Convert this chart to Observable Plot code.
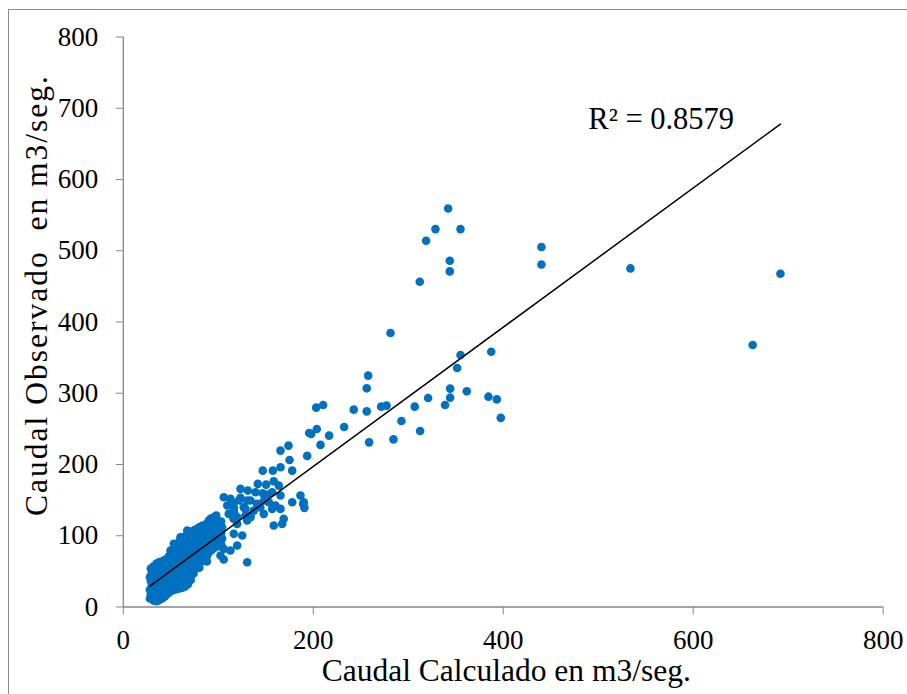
<!DOCTYPE html>
<html>
<head>
<meta charset="utf-8">
<script src="https://cdn.jsdelivr.net/npm/d3@7"></script>
<script src="https://cdn.jsdelivr.net/npm/@observablehq/plot@0.6"></script>
<style>
  body { margin: 0; background: #ffffff; }
  #wrap { position: relative; width: 907px; height: 694px; overflow: hidden; background: #fff; }
  #frame { position: absolute; left: 8px; top: 9px; width: 930px; height: 720px; border: 1px solid #8c8c8c; box-sizing: border-box; pointer-events: none; }
  #chart { position: absolute; left: 0; top: 0; }
</style>
</head>
<body>
<div id="wrap"><div id="frame"></div><div id="chart"></div></div>
<script>
// Outlying / sparse points (Caudal Calculado, Caudal Observado)
const sparseCalc = [342.0,328.6,355.0,318.8,343.7,343.7,312.1,440.2,440.2,533.9,691.8,662.6,281.3,355.0,387.3,351.5,257.8,256.3,344.1,361.6,320.9,344.1,306.8,338.8,384.4,393.2,397.4,242.6,256.3,271.5,277.1,292.8,312.5,284.4,258.8,232.5,216.7,207.6,195.7,197.8,203.7,203.1,210.4,193.6,173.9,165.5,175.0];
const sparseObs  = [559.3,530.4,530.4,514.0,486.0,471.0,456.5,505.2,480.8,475.2,467.7,367.7,384.6,353.7,358.3,335.5,324.7,306.9,306.5,302.7,293.4,293.8,281.2,283.6,295.2,291.4,265.4,277.0,274.6,281.2,282.6,261.1,247.1,235.3,231.1,252.7,240.5,227.5,244.3,242.9,249.9,279.8,283.6,212.1,226.5,219.5,206.4];

// Middle cluster
const midCalc = [177.8,165.5,157.4,146.8,158.4,141.6,150.4,123.4,131.1,139.2,146.8,156.7,163.7,165.5,186.5,177.8,190.0,190.7,133.9,147.9,153.2,126.8,140.9,156.7,165.5,116.3,147.9,133.9,119.9,168.9,
  105.8,112.8,121.6,130.4,109.4,116.3,128.6,137.4,111.0,118.1,133.9,95.3,90.0,98.8,119.9,116.3,125.2,67.3,77.8,84.7,60.2,70.7,91.8,102.3,53.2,63.7,74.2,84.7,93.6,105.8,112.8,119.9,102.3,49.7,56.7,67.3,77.8,88.3,56.7,70.7,
  105.7,130.4,158.4,167.3,189.4,97.8,97.8,91.8,123.4,115.0,128.6,144.2,153.0,160.2,116.0,130.4];
const midObs = [191.4,196.1,191.4,191.4,176.4,172.8,171.8,165.8,163.4,161.0,159.6,161.0,170.4,156.4,156.4,147.0,147.0,139.1,149.4,149.4,147.0,140.0,144.7,137.7,137.7,135.3,130.7,128.3,125.9,123.7,
  154.0,151.7,149.4,149.4,142.4,140.0,137.7,135.3,130.7,128.3,125.9,125.9,121.3,116.7,116.7,102.7,100.3,107.3,104.9,102.7,97.9,97.9,97.9,93.3,88.6,86.3,88.6,86.3,83.9,81.6,79.2,86.3,72.2,79.2,74.6,76.9,72.2,72.2,67.6,67.6,
  66.6,62.8,114.3,116.7,144.7,128.3,112.9,123.7,153.4,145.0,128.3,139.8,157.8,142.4,124.0,121.3];

// Dense low-flow cluster
const denseCalc = [
  28,29,28,30,29,28,30,29,
  32,33,32,31,33,32,31,33,32,
  35,35,36,35,34,36,35,34,36,35,
  38,39,38,37,39,38,37,39,38,38,
  41,42,41,40,42,41,40,42,41,42,
  44,45,44,43,45,44,43,45,44,45,
  47,48,47,46,48,47,46,48,47,48,
  50,51,50,49,51,50,49,51,50,51,
  53,54,53,52,54,53,52,54,53,54,
  56,57,56,55,57,56,55,57,56,57,
  59,60,59,58,60,59,58,60,59,60,59,
  62,63,62,61,63,62,61,63,62,63,62,
  65,66,65,64,66,65,64,66,65,66,65,
  68,69,68,67,69,68,67,69,68,69,68,
  71,72,71,70,72,71,70,72,71,72,71,
  74,75,74,73,75,74,73,75,74,75,
  77,78,77,76,78,77,76,78,77,
  80,81,80,79,81,80,79,81,80,
  83,84,83,82,84,83,82,84,83,
  86,87,86,85,87,86,85,87,
  89,90,89,88,90,89,88,90,
  92,93,92,91,93,92,91,
  95,96,95,94,96,95,96,
  99,100,99,100,99,100,
  103,104,103,104,103,
  80,88];
const denseObs = [
  12,18,24,30,36,42,48,54,
  9,15,21,27,33,39,45,51,57,
  8,14,20,26,32,38,44,50,56,61,
  10,16,22,28,34,40,46,52,58,63,
  12,18,25,31,37,43,49,55,61,65,
  15,21,28,34,40,46,52,58,64,67,
  19,25,32,38,44,50,56,62,68,71,
  22,28,35,41,47,53,59,65,71,76,
  24,30,37,43,49,55,61,67,73,80,
  25,32,38,45,51,57,63,70,77,84,
  26,33,40,47,53,60,66,73,80,87,92,
  27,34,41,48,55,62,69,76,83,90,97,
  29,36,43,50,57,64,71,78,85,92,99,
  32,39,46,53,60,67,74,81,88,95,102,
  38,45,52,59,66,73,80,87,94,101,106,
  47,54,61,68,75,82,89,96,103,108,
  55,62,68,74,81,88,95,102,109,
  60,66,72,79,86,93,100,107,112,
  65,70,76,83,90,97,104,110,114,
  70,75,81,88,95,102,109,116,
  75,80,86,93,100,107,114,118,
  79,84,91,98,105,112,119,
  82,88,95,102,109,116,122,
  85,92,99,106,113,120,
  88,96,104,112,120,
  55,64];

// Axis ticks and trendline
const xTicks = [0, 200, 400, 600, 800];
const yTicks = [0, 100, 200, 300, 400, 500, 600, 700, 800];
const trendSlope = 0.977;
const trendIntercept = 1.9;
const r2Label = "R² = 0.8579";
const xTitle = "Caudal Calculado en m3/seg.";
const yTitle = "Caudal Observado  en m3/seg.";

const points = [];
[[sparseCalc, sparseObs], [midCalc, midObs], [denseCalc, denseObs]].forEach(([cs, os]) => {
  cs.forEach((c, i) => points.push({calc: c, obs: os[i]}));
});
const allCalc = points.map(d => d.calc);
const trend = d3.extent(allCalc).map(c => ({calc: c, obs: trendIntercept + trendSlope * c}));

const serif = "Liberation Serif";
const grey = "#868686";

const chart = Plot.plot({
  width: 907,
  height: 694,
  marginLeft: 122.8,
  marginRight: 24.3,
  marginTop: 36.5,
  marginBottom: 87.5,
  x: {domain: [0, 800]},
  y: {domain: [0, 800]},
  style: {fontFamily: serif, fontSize: "27px", background: "transparent", overflow: "visible"},
  marks: [
    Plot.axisX({ticks: xTicks, tickSize: 8, color: grey, label: null, tickFormat: () => ""}),
    Plot.axisY({ticks: yTicks, tickSize: 7, color: grey, label: null, tickFormat: () => ""}),
    Plot.ruleX([0], {stroke: grey, strokeWidth: 1.3}),
    Plot.ruleY([0], {stroke: grey, strokeWidth: 1.3}),
    Plot.text(xTicks, {x: d => d, frameAnchor: "bottom", dy: 23, lineAnchor: "top", textAnchor: "middle", fontSize: 27, fontFamily: serif, fill: "black"}),
    Plot.text(yTicks, {y: d => d, frameAnchor: "left", dx: -25, lineAnchor: "middle", textAnchor: "end", fontSize: 27, fontFamily: serif, fill: "black"}),
    Plot.dot(points, {x: "calc", y: "obs", r: 4.3, fill: "#0070C0", stroke: null}),
    Plot.line(trend, {x: "calc", y: "obs", stroke: "black", strokeWidth: 1.5}),
    Plot.text([r2Label], {frameAnchor: "top-left", dx: 465, dy: 70, textAnchor: "start", lineAnchor: "top", fontSize: 30.5, fill: "black", fontFamily: serif}),
    Plot.text([xTitle], {frameAnchor: "bottom", dy: 64, dx: 3, textAnchor: "middle", lineAnchor: "middle", fontSize: 31.5, fill: "black", fontFamily: serif}),
    Plot.text([yTitle], {frameAnchor: "left", rotate: -90, dx: -86, dy: -26, textAnchor: "middle", lineAnchor: "middle", fontSize: 31.5, fill: "black", fontFamily: serif})
  ]
});
// the reference's vertical title is spread over a longer run
chart.querySelectorAll("text").forEach(t => {
  if (t.textContent === yTitle) {
    t.setAttribute("textLength", "440");
    t.setAttribute("lengthAdjust", "spacing");
  }
});
document.getElementById("chart").appendChild(chart);
</script>
</body>
</html>
